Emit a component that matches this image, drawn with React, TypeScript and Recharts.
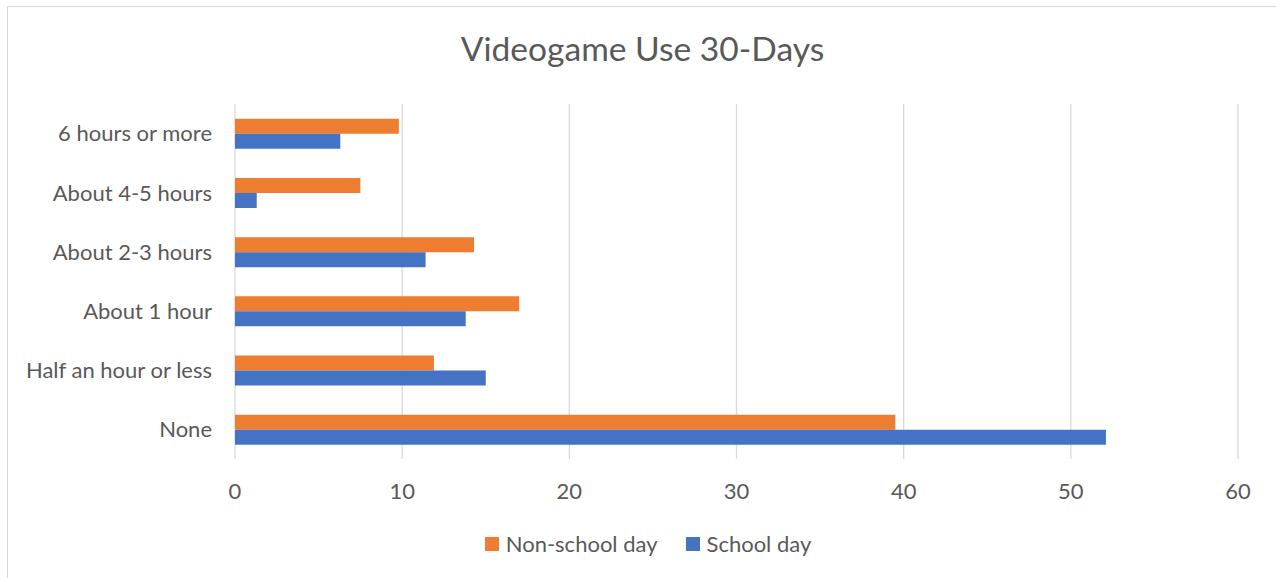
import React from "react";
import { BarChart, Bar, XAxis, YAxis, CartesianGrid, Legend } from "recharts";

const categories = [
  "6 hours or more",
  "About 4-5 hours",
  "About 2-3 hours",
  "About 1 hour",
  "Half an hour or less",
  "None",
];
const nonSchoolDay = [9.8, 7.5, 14.3, 17.0, 11.9, 39.5];
const schoolDay = [6.3, 1.3, 11.4, 13.8, 15.0, 52.1];
const xTicks = [0, 10, 20, 30, 40, 50, 60];

const data = categories.map((c, i) => ({
  category: c,
  nonSchool: nonSchoolDay[i],
  school: schoolDay[i],
}));

const FONT = "Lato, 'Open Sans', sans-serif";
const TEXT = "#595959";
const ORANGE = "#ED7D31";
const BLUE = "#4472C4";

const renderLegend = (props: any) => {
  const { payload } = props;
  return (
    <div style={{ display: "flex", justifyContent: "center", alignItems: "center", fontFamily: FONT, fontSize: 22, color: TEXT, paddingLeft: 20 }}>
      {payload.map((p: any, i: number) => (
        <div key={i} style={{ display: "flex", alignItems: "center", marginRight: i === payload.length - 1 ? 0 : 28 }}>
          <div style={{ width: 14, height: 14, background: p.color, marginRight: 7 }} />
          <span>{p.value}</span>
        </div>
      ))}
    </div>
  );
};

export default function App() {
  return (
    <div style={{ position: "absolute", left: 0, top: 0, width: 1276, height: 578, background: "#fff", overflow: "hidden" }}>
      <div style={{ position: "absolute", left: 7, top: 6, width: 1275, height: 580, borderTop: "1px solid #d9d9d9", borderLeft: "1px solid #d9d9d9", boxSizing: "border-box" }} />
      <div style={{ position: "absolute", left: 0, top: 28, width: 1285, textAlign: "center", fontFamily: FONT, fontSize: 33.6, color: TEXT }}>
        Videogame Use 30-Days
      </div>
      <div style={{ position: "absolute", left: 0, top: 0 }}>
        <BarChart
          width={1276}
          height={578}
          data={data}
          layout="vertical"
          margin={{ top: 104, right: 38, bottom: 79, left: 0 }}
          barCategoryGap="25%"
          barGap={0}
        >
          <CartesianGrid horizontal={false} vertical={true} stroke="#d9d9d9" strokeWidth={1.3} />
          <XAxis
            type="number"
            domain={[0, 60]}
            ticks={xTicks}
            axisLine={false}
            tickLine={false}
            tickSize={0}
            tickMargin={24}
            height={40}
            tick={{ fill: TEXT, fontSize: 22, fontFamily: FONT }}
            interval={0}
          />
          <YAxis
            type="category"
            dataKey="category"
            width={235}
            axisLine={false}
            tickLine={false}
            tickSize={0}
            tickMargin={23}
            tick={{ fill: TEXT, fontSize: 22, fontFamily: FONT }}
            interval={0}
          />
          <Legend
            layout="horizontal"
            verticalAlign="middle"
            align="center"
            content={renderLegend}
            wrapperStyle={{ top: 530, left: 0, width: 1276 }}
          />
          <Bar dataKey="nonSchool" name="Non-school day" fill={ORANGE} isAnimationActive={false} />
          <Bar dataKey="school" name="School day" fill={BLUE} isAnimationActive={false} />
        </BarChart>
      </div>
    </div>
  );
}
